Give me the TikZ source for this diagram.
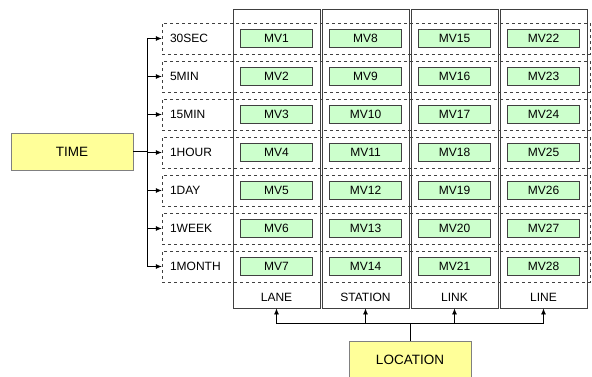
\documentclass[tikz,border=0pt]{standalone}
\usepackage{fontspec}
\setmainfont{Liberation Sans}
\usetikzlibrary{positioning,arrows.meta}
\definecolor{keyyellow}{RGB}{255,255,153}
\definecolor{mvgreen}{RGB}{204,255,204}
\definecolor{keygray}{RGB}{128,128,128}
\definecolor{edgedark}{RGB}{64,64,64}

\tikzset{
  keybox/.style={draw=keygray, fill=keyyellow, line width=0.8pt,
    minimum width=122pt, minimum height=37pt, font=\fontsize{13.5}{15}\selectfont},
  rowbox/.style={draw=edgedark, dashed, minimum width=428pt, minimum height=31pt, inner sep=0pt},
  colbox/.style={draw=edgedark, line width=0.9pt, minimum width=87pt, minimum height=299pt},
  mvbox/.style={draw=edgedark, fill=mvgreen, line width=0.7pt, minimum width=72pt,
    minimum height=18pt, inner sep=0pt, font=\fontsize{12}{14}\selectfont},
  lbl/.style={inner sep=0pt, font=\fontsize{12}{14}\selectfont},
  arr/.style={-{Latex[length=6pt,width=5pt]}, line width=0.7pt}
}

\begin{document}
\begin{tikzpicture}[x=1pt, y=-1pt]
  \useasboundingbox (0,0) rectangle (592,376);
  % location columns
  \foreach \nm/\txt [count=\c] in {lane/LANE, station/STATION, link/LINK, roadline/LINE} {
    \node[colbox] (\nm) at ({276.5+89*(\c-1)}, 158.5) {};
    \node[lbl] (\nm lbl) at ({276.5+89*(\c-1)}, 297) {\txt};
  }
  % time rows
  \foreach \per [count=\r] in {30SEC,5MIN,15MIN,1HOUR,1DAY,1WEEK,1MONTH} {
    \node[rowbox] (row\r) at (376, {38.5+38*(\r-1)}) {};
    \node[lbl, anchor=west] (per\r) at ([xshift=8pt]row\r.west) {\per};
  }
  % measure values
  \foreach \c in {1,...,4} {
    \foreach \r in {1,...,7} {
      \pgfmathtruncatemacro\k{7*(\c-1)+\r}
      \node[mvbox] (mv\k) at ({276.5+89*(\c-1)}, {38.5+38*(\r-1)}) {MV\k};
    }
  }

  \node[keybox] (time) at (72, 151.5) {TIME};
  \node[keybox] (location) at (410, 359.5) {LOCATION};

  % time connectors
  \coordinate (tbus) at (147, 151.5);
  \draw[line width=0.7pt] (time.east) -- (tbus);
  \draw[line width=0.7pt] (row1.west -| tbus) -- (row7.west -| tbus);
  \foreach \r in {1,...,7}
    \draw[arr] (row\r.west -| tbus) -- (row\r.west);

  % location connectors
  \coordinate (lbus) at ([yshift=17pt]location.north);
  \draw[line width=0.7pt] (location.north) -- (lbus);
  \draw[line width=0.7pt] (lane.south |- lbus) -- (roadline.south |- lbus);
  \foreach \nm in {lane, station, link, roadline}
    \draw[arr] (\nm.south |- lbus) -- (\nm.south);
\end{tikzpicture}
\end{document}
